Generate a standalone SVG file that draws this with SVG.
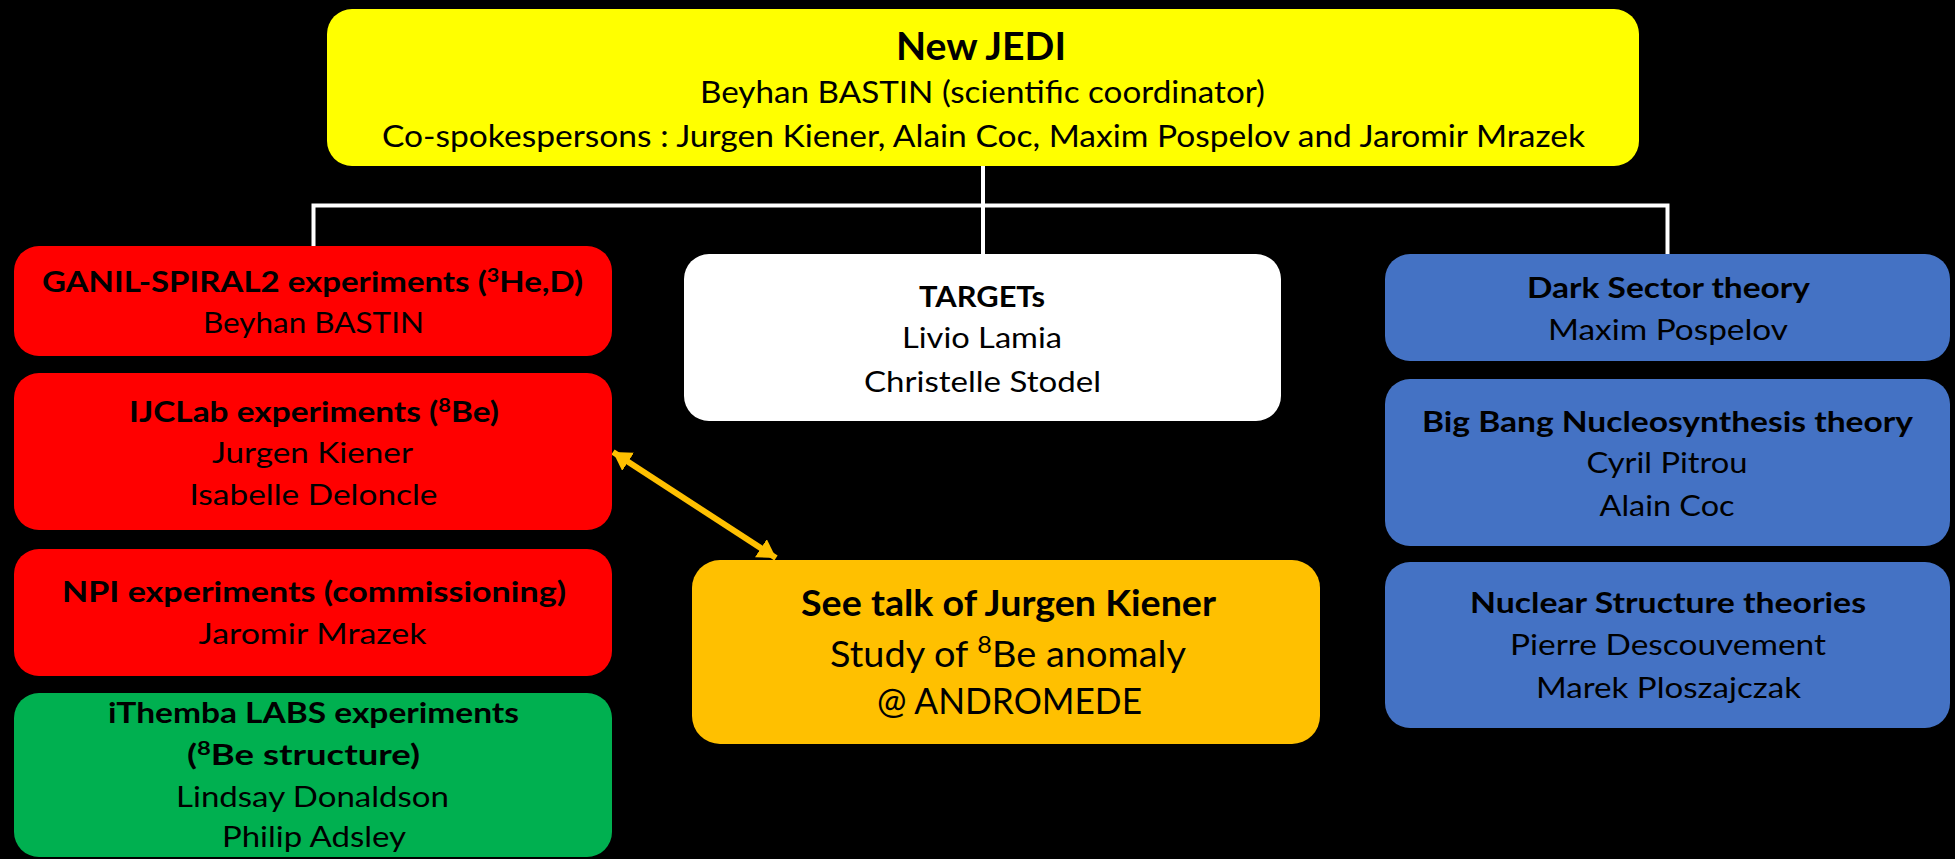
<svg xmlns="http://www.w3.org/2000/svg" width="1955" height="859" viewBox="0 0 1955 859">
<defs>
<style>
.bg{fill:#000}
.box{stroke:none}
.y{fill:#FFFF00}.r{fill:#FF0000}.g{fill:#00B050}.w{fill:#FFFFFF}.o{fill:#FFC000}.bl{fill:#4472C4}
text{font-family:Lato,"Liberation Sans",sans-serif;text-anchor:middle;fill:#000;font-size:29px}
.b{font-weight:bold}
.big{font-size:36px}
.top{font-size:30px}
.title{font-size:38px;font-weight:bold}
.con{stroke:#FFFFFF;stroke-width:4;fill:none}
.arr{stroke:#FFC000;stroke-width:6;fill:none}
</style>
<marker id="ah" viewBox="0 0 10 12" refX="10" refY="6" markerWidth="3" markerHeight="3.6" orient="auto-start-reverse" markerUnits="strokeWidth">
<path d="M0,0 L10,6 L0,12 z" fill="#FFC000"/>
</marker>
</defs>
<rect class="bg" x="0" y="0" width="1955" height="859"/>

<g id="connectors">
<path class="con" d="M983,166 V205.5 M311.5,205.5 H1669.5 M313.5,205.5 V246 M983,205.5 V254 M1667.5,205.5 V254"/>
<line class="arr" x1="613" y1="452" x2="776" y2="558" marker-start="url(#ah)" marker-end="url(#ah)"/>
</g>

<g id="node-jedi">
<rect class="box y" x="327" y="9" width="1312" height="157" rx="25"/>
<text class="title" x="981" y="60" textLength="170" lengthAdjust="spacingAndGlyphs">New JEDI</text>
<text class="top" x="982.5" y="103" textLength="565" lengthAdjust="spacingAndGlyphs">Beyhan BASTIN (scientific coordinator)</text>
<text class="top" x="983.5" y="147" textLength="1203" lengthAdjust="spacingAndGlyphs">Co-spokespersons : Jurgen Kiener, Alain Coc, Maxim Pospelov and Jaromir Mrazek</text>
</g>

<g id="node-ganil">
<rect class="box r" x="14" y="246" width="598" height="110" rx="25"/>
<text class="b" x="312.5" y="292" textLength="541" lengthAdjust="spacingAndGlyphs">GANIL-SPIRAL2 experiments (<tspan font-size="19" dy="-10">3</tspan><tspan dy="10">He,D)</tspan></text>
<text x="313.5" y="333" textLength="221" lengthAdjust="spacingAndGlyphs">Beyhan BASTIN</text>
</g>

<g id="node-ijclab">
<rect class="box r" x="14" y="373" width="598" height="157" rx="25"/>
<text class="b" x="314" y="422" textLength="370" lengthAdjust="spacingAndGlyphs">IJCLab experiments (<tspan font-size="19" dy="-10">8</tspan><tspan dy="10">Be)</tspan></text>
<text x="312.5" y="463" textLength="201" lengthAdjust="spacingAndGlyphs">Jurgen Kiener</text>
<text x="313.5" y="505" textLength="248" lengthAdjust="spacingAndGlyphs">Isabelle Deloncle</text>
</g>

<g id="node-npi">
<rect class="box r" x="14" y="549" width="598" height="127" rx="25"/>
<text class="b" x="314" y="602" textLength="504" lengthAdjust="spacingAndGlyphs">NPI experiments (commissioning)</text>
<text x="312.5" y="644" textLength="228" lengthAdjust="spacingAndGlyphs">Jaromir Mrazek</text>
</g>

<g id="node-ithemba">
<rect class="box g" x="14" y="693" width="598" height="164" rx="25"/>
<text class="b" x="313.5" y="723" textLength="411" lengthAdjust="spacingAndGlyphs">iThemba LABS experiments</text>
<text class="b" x="303.5" y="765" textLength="233" lengthAdjust="spacingAndGlyphs">(<tspan font-size="19" dy="-10">8</tspan><tspan dy="10">Be structure)</tspan></text>
<text x="312.5" y="807" textLength="273" lengthAdjust="spacingAndGlyphs">Lindsay Donaldson</text>
<text x="314" y="847" textLength="184" lengthAdjust="spacingAndGlyphs">Philip Adsley</text>
</g>

<g id="node-targets">
<rect class="box w" x="684" y="254" width="597" height="167" rx="25"/>
<text class="b" x="982" y="307" textLength="126" lengthAdjust="spacingAndGlyphs">TARGETs</text>
<text x="982" y="348" textLength="160" lengthAdjust="spacingAndGlyphs">Livio Lamia</text>
<text x="982.5" y="392" textLength="237" lengthAdjust="spacingAndGlyphs">Christelle Stodel</text>
</g>

<g id="node-talk">
<rect class="box o" x="692" y="560" width="628" height="184" rx="28"/>
<text class="b big" x="1008.5" y="616" textLength="415" lengthAdjust="spacingAndGlyphs">See talk of Jurgen Kiener</text>
<text class="big" x="1008" y="667" textLength="356" lengthAdjust="spacingAndGlyphs">Study of <tspan font-size="24" dy="-14">8</tspan><tspan dy="14">Be anomaly</tspan></text>
<text class="big" x="1009.5" y="714" textLength="265" lengthAdjust="spacingAndGlyphs">@ ANDROMEDE</text>
</g>

<g id="node-dark">
<rect class="box bl" x="1385" y="254" width="565" height="107" rx="25"/>
<text class="b" x="1668.5" y="298" textLength="283" lengthAdjust="spacingAndGlyphs">Dark Sector theory</text>
<text x="1668" y="340" textLength="240" lengthAdjust="spacingAndGlyphs">Maxim Pospelov</text>
</g>

<g id="node-bbn">
<rect class="box bl" x="1385" y="379" width="565" height="167" rx="25"/>
<text class="b" x="1667.5" y="432" textLength="491" lengthAdjust="spacingAndGlyphs">Big Bang Nucleosynthesis theory</text>
<text x="1667" y="473" textLength="161" lengthAdjust="spacingAndGlyphs">Cyril Pitrou</text>
<text x="1667" y="516" textLength="135" lengthAdjust="spacingAndGlyphs">Alain Coc</text>
</g>

<g id="node-nuclear">
<rect class="box bl" x="1385" y="562" width="565" height="166" rx="25"/>
<text class="b" x="1668" y="613" textLength="396" lengthAdjust="spacingAndGlyphs">Nuclear Structure theories</text>
<text x="1668" y="655" textLength="316" lengthAdjust="spacingAndGlyphs">Pierre Descouvement</text>
<text x="1668.5" y="698" textLength="265" lengthAdjust="spacingAndGlyphs">Marek Ploszajczak</text>
</g>
</svg>
